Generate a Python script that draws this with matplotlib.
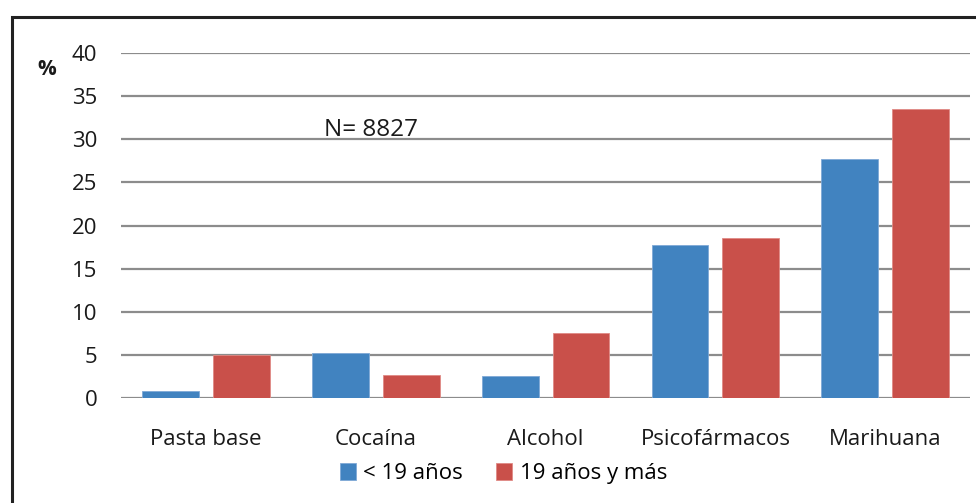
import numpy as np
import matplotlib.pyplot as plt
from matplotlib.patches import Rectangle

categorias = ["Pasta base", "Cocaína", "Alcohol", "Psicofármacos", "Marihuana"]
menores_19 = [0.8, 5.2, 2.6, 17.7, 27.7]
mayores_19 = [5.0, 2.7, 7.5, 18.6, 33.5]
series = ["< 19 años", "19 años y más"]

plt.rcParams["font.family"] = ["Open Sans", "DejaVu Sans"]

fig = plt.figure(figsize=(9.76, 5.03), dpi=100)
ax = fig.add_axes([0.124, 0.2087, 0.870, 0.6859])

x = np.arange(len(categorias))
w = 0.335
off = w / 2 + 0.041
ax.bar(x - off, menores_19, w, color="#4183c0", edgecolor="#7fa9d6", linewidth=0.6,
       label=series[0], zorder=3)
ax.bar(x + off, mayores_19, w, color="#c9504a", edgecolor="#e08a85", linewidth=0.6,
       label=series[1], zorder=3)

ax.set_xlim(-0.5, len(categorias) - 0.5)
ax.set_ylim(0, 40)
ax.set_yticks(range(0, 41, 5))
ax.yaxis.grid(True, color="#8c8c8c", linewidth=1.6, zorder=0)
ax.set_axisbelow(True)
for s in ax.spines.values():
    s.set_visible(False)
ax.tick_params(axis="both", length=0, labelsize=16, colors="#1a1a1a")
ax.tick_params(axis="y", pad=17)
ax.tick_params(axis="x", pad=22)
ax.set_xticks(x)
ax.set_xticklabels(categorias)

ax.text(0.294, 0.777, "N= 8827", transform=ax.transAxes, ha="center", va="center",
        fontsize=17.5, color="#1a1a1a")
fig.text(0.048, 0.862, "%", ha="center", va="center", fontsize=15, fontweight="bold",
         color="#1a1a1a")

fig.legend(loc="center", bbox_to_anchor=(0.516, 0.058), ncol=2, frameon=False,
           fontsize=16, handlelength=0.7, handleheight=0.75, handletextpad=0.35,
           columnspacing=1.5)

fig.patches.append(Rectangle((0.0123, -0.1), 1.1, 1.067, transform=fig.transFigure,
                             fill=False, edgecolor="#222222", linewidth=2.2))

fig.savefig("out.png", dpi=100)
